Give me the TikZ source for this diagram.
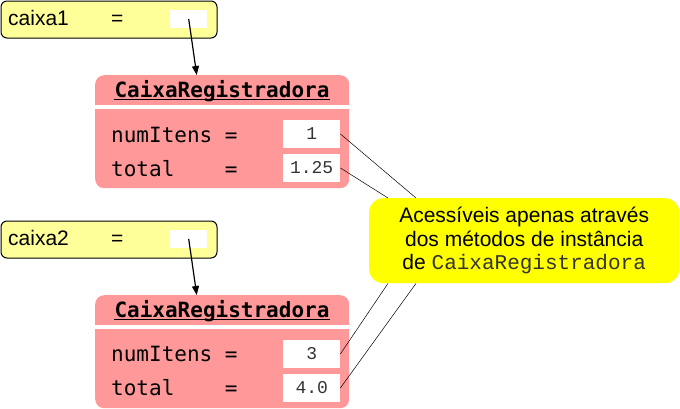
\documentclass[tikz,border=0pt]{standalone}
\usepackage{fontspec}
\setmainfont{Liberation Sans}
\newfontfamily\lmono{Liberation Mono}
\newfontfamily\dmono{DejaVu Sans Mono}
\usetikzlibrary{arrows.meta,calc}
\definecolor{varfill}{HTML}{FFFF99}
\definecolor{objfill}{HTML}{FF9999}
\definecolor{notefill}{HTML}{FFFF00}
\definecolor{monogray}{HTML}{333333}
\tikzset{
 varbox/.style={draw=black, line width=1pt, fill=varfill, rounded corners=6pt, minimum width=216pt, minimum height=37pt, anchor=north west, inner sep=0pt},
 refbox/.style={fill=white, minimum width=37pt, minimum height=18.5pt, inner sep=0pt, anchor=north west},
 objbox/.style={fill=objfill, rounded corners=9pt, minimum width=254pt, minimum height=113pt, anchor=north west, inner sep=0pt},
 valbox/.style={fill=white, minimum width=57pt, minimum height=28.5pt, inner sep=0pt, anchor=north west, text=monogray, font=\fontsize{18}{20}\lmono},
 lbl/.style={anchor=base west, font=\fontsize{21}{24}\dmono, inner sep=0pt},
 titletext/.style={anchor=base, font=\fontsize{21}{24}\dmono\bfseries, inner sep=0pt},
 vartext/.style={anchor=base west, font=\fontsize{21}{24}\selectfont, inner sep=0pt},
 sepline/.style={white, line width=4pt},
 uline/.style={black, line width=1.4pt},
 ptr/.style={line width=1.2pt, -{Triangle[length=9pt,width=7pt]}},
 lead/.style={line width=0.5pt},
 note/.style={fill=notefill, rounded corners=14pt, minimum width=310pt, minimum height=85pt, inner sep=0pt, anchor=north west, align=center, font=\fontsize{21}{23.5}\selectfont}
}
\begin{document}
\begin{tikzpicture}[x=1pt,y=-1pt]
\useasboundingbox (0,0) rectangle (680,408);

% variable caixa1
\node[varbox] (var1) at (0.5,0.5) {};
\node[refbox] (r1) at (170,9.5) {};
\node[vartext] (n1) at (8,25) {caixa1};
\node[vartext] (e1) at (111,25) {=};

% object 1
\node[objbox] (obj1) at (95,75) {};
\draw[sepline] (obj1.west |- 0,107) -- (obj1.east |- 0,107);
\node[titletext] (t1) at (222,97) {CaixaRegistradora};
\draw[uline] ($(t1.base west)+(0,2.5)$) -- ($(t1.base east)+(0,2.5)$);
\node[lbl] (l11) at (111,142) {numItens =};
\node[lbl] (l12) at (111,176) {total\ \ \ \ =};
\node[valbox] (v11) at (283,119.5) {1};
\node[valbox] (v12) at (283,153.5) {1.25};

% variable caixa2
\node[varbox] (var2) at (0.5,220.5) {};
\node[refbox] (r2) at (170,229.5) {};
\node[vartext] (n2) at (8,245) {caixa2};
\node[vartext] (e2) at (111,245) {=};

% object 2
\node[objbox] (obj2) at (95,295) {};
\draw[sepline] (obj2.west |- 0,327) -- (obj2.east |- 0,327);
\node[titletext] (t2) at (222,317) {CaixaRegistradora};
\draw[uline] ($(t2.base west)+(0,2.5)$) -- ($(t2.base east)+(0,2.5)$);
\node[lbl] (l21) at (111,361) {numItens =};
\node[lbl] (l22) at (111,395) {total\ \ \ \ =};
\node[valbox] (v21) at (283,339.5) {3};
\node[valbox] (v22) at (283,373.5) {4.0};

% pointers
\draw[ptr] (r1.center) -- ($(obj1.north west)!0.4!(obj1.north east)$);
\draw[ptr] (r2.center) -- ($(obj2.north west)!0.4!(obj2.north east)$);

% note
\node[note] (note) at (369,198) {Acessíveis apenas através\\dos métodos de instância\\de {\color{monogray}\lmono CaixaRegistradora}};
\coordinate (na) at ($(note.north west)+(47,0)$);
\coordinate (nb) at ($(note.north west)+(19,0)$);
\coordinate (nc) at ($(note.south west)+(19,0)$);
\coordinate (nd) at ($(note.south west)+(47,0)$);
\draw[lead] (v11.east) -- (na);
\draw[lead] (v12.east) -- (nb);
\draw[lead] (v21.east) -- (nc);
\draw[lead] (v22.east) -- (nd);
\end{tikzpicture}
\end{document}
